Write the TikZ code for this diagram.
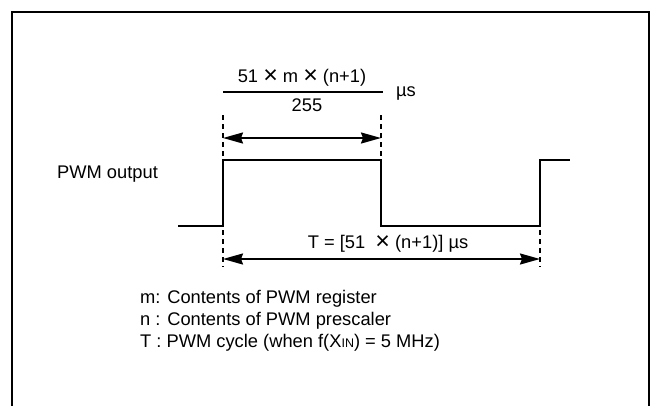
\documentclass[tikz,border=0pt]{standalone}
\usepackage{fontspec}
\setmainfont{Liberation Sans}
\usetikzlibrary{arrows.meta}
\newcommand{\bigx}{\raisebox{-0.5pt}{\fontsize{25}{25}\selectfont ×}}
\begin{document}
\begin{tikzpicture}[x=1pt,y=-1pt,
  txt/.style={inner sep=0pt,font=\fontsize{18.3}{21}\selectfont},
  wave/.style={line width=2.6pt,line join=miter},
  dim/.style={line width=2pt,{Stealth[length=20pt,width=11pt,inset=2pt]}-{Stealth[length=20pt,width=11pt,inset=2pt]}},
  guide/.style={line width=1.6pt,dash pattern=on 5pt off 4pt}]
\useasboundingbox (0,0) rectangle (651,405);
\draw[line width=2.2pt] (12,406) -- (12,12) -- (649,12) -- (649,406);
% waveform
\coordinate (w0) at (178,226);
\coordinate (r1) at (223,226);
\coordinate (h1) at (223,160);
\coordinate (h2) at (381,160);
\coordinate (f1) at (381,226);
\coordinate (l2) at (540,226);
\coordinate (r2) at (540,160);
\coordinate (w1) at (570,160);
\draw[wave] (w0) -- (r1) -- (h1) -- (h2) -- (f1) -- (l2) -- (r2) -- (w1);
% guides
\coordinate (ga1) at (223,115); \coordinate (ga2) at (223,157);
\coordinate (gb1) at (381,115); \coordinate (gb2) at (381,157);
\coordinate (gc1) at (223,230); \coordinate (gc2) at (223,267);
\coordinate (gd1) at (540,230); \coordinate (gd2) at (540,267);
\draw[guide] (ga1) -- (ga2);
\draw[guide] (gb1) -- (gb2);
\draw[guide] (gc1) -- (gc2);
\draw[guide] (gd1) -- (gd2);
% dimension arrows
\coordinate (a1) at (223,138); \coordinate (a2) at (381,138);
\draw[dim] (a1) -- (a2);
\coordinate (b1) at (223,259); \coordinate (b2) at (540,259);
\draw[dim] (b1) -- (b2);
% fraction
\coordinate (fr1) at (223,92); \coordinate (fr2) at (383,92);
\draw[line width=2.4pt] (fr1) -- (fr2);
\node[txt] (num) at (302,78) {51 \bigx{} m \bigx{} (n+1)};
\node[txt] (den) at (307,105) {255};
\node[txt] (us) at (406,93) {µs};
\node[txt] (tl) at (388,244) {T = [51\ \ \bigx{} (n+1)] µs};
\node[txt,anchor=west] (pwm) at (57,174) {PWM output};
\node[txt,anchor=west] (n1) at (140,299) {m: Contents of PWM register};
\node[txt,anchor=west] (n2) at (140,321) {n : Contents of PWM prescaler};
\node[txt,anchor=west] (n3) at (140,343) {T : PWM cycle (when f(X{\fontsize{12.5}{14}\selectfont IN}) = 5 MHz)};
\end{tikzpicture}
\end{document}
